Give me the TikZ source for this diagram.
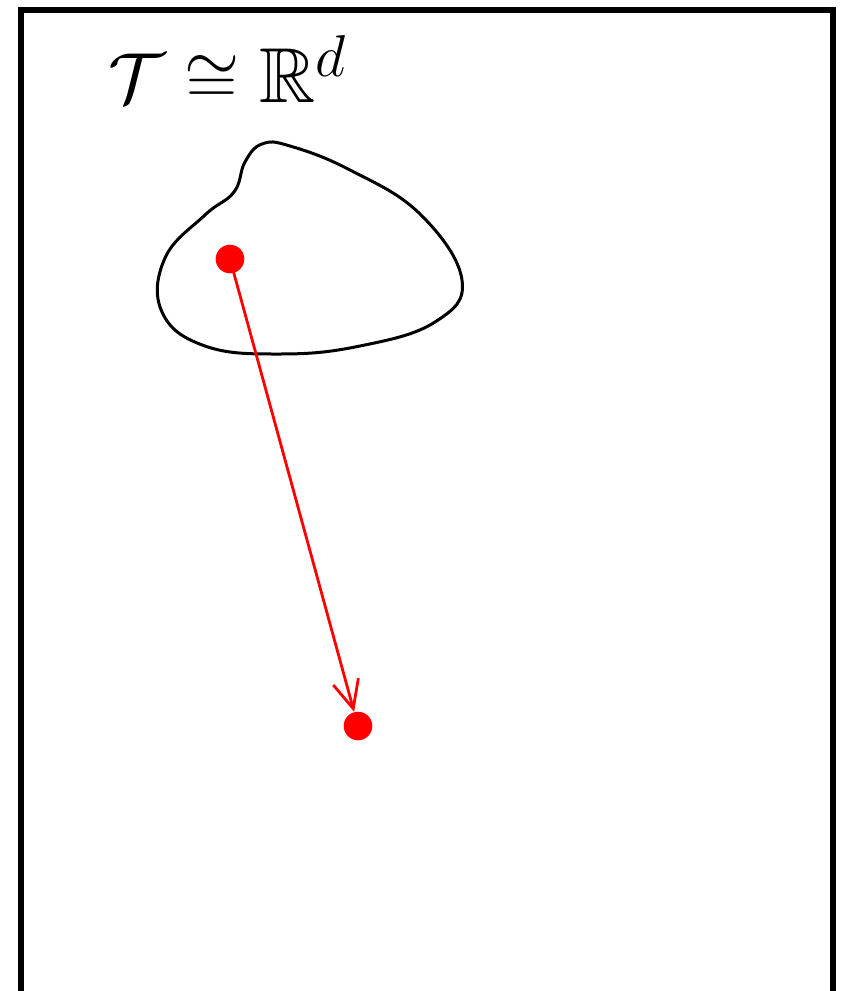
\documentclass[tikz,border=0pt]{standalone}
\usepackage{amsmath,amssymb}
\usetikzlibrary{arrows.meta}
\begin{document}
\begin{tikzpicture}[x=0.5pt,y=-0.5pt,
  dot/.style={circle,fill=red,inner sep=0pt,minimum size=14.3pt},
  frame/.style={line width=2.6pt},
  blob/.style={line width=1.5pt},
  vec/.style={red,line width=1.4pt,-{Straight Barb[length=14pt,width=13pt,line width=1.4pt]}}]
\useasboundingbox (0,0) rectangle (841,991);
\clip (0,0) rectangle (841,991);
\draw[frame] (21,1020) -- (21,10) -- (833,10) -- (833,1020);
\node[scale=2.05] (lbl) at (228,70) {\fontsize{19pt}{23pt}\selectfont $\mathcal{T}\cong\mathbb{R}^d$};
\draw[blob] plot[smooth cycle,tension=0.7] coordinates {
  (262,144) (290,146) (350,170) (420,214) (462,280) (435,322) (360,346)
  (280,354) (205,346) (162,312) (165,258) (205,215)
  (234,192) (245,162)};
\node[dot] (p) at (230,259) {};
\node[dot] (q) at (358,726) {};
\draw[vec] (p.center) -- (q);
\end{tikzpicture}
\end{document}
